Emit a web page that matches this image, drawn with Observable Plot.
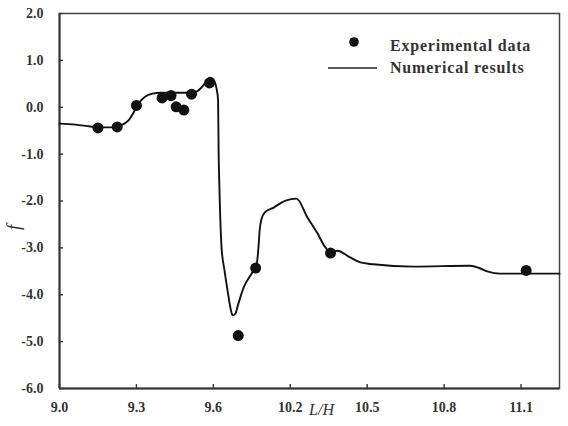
<!DOCTYPE html>
<html>
<head>
<meta charset="utf-8">
<script src="https://cdn.jsdelivr.net/npm/d3@7"></script>
<script src="https://cdn.jsdelivr.net/npm/@observablehq/plot@0.6"></script>
<style>
  html, body { margin: 0; padding: 0; background: #fff; }
</style>
</head>
<body>
<div id="chart"></div>
<script>
// L/H axis ticks (the printed scale steps straight from 9.6 to 10.2)
const xTickValues = [9.0, 9.3, 9.6, 10.2, 10.5, 10.8, 11.1];
const xTickLabels = ["9.0", "9.3", "9.6", "10.2", "10.5", "10.8", "11.1"];
const xMax = 11.25;

// f axis ticks
const yTickValues = [2, 1, 0, -1, -2, -3, -4, -5, -6];
const yTickLabels = ["2.0", "1.0", "0.0", "-1.0", "-2.0", "-3.0", "-4.0", "-5.0", "-6.0"];

// Experimental data
const expLH = [9.15, 9.225, 9.30, 9.40, 9.435, 9.455, 9.485, 9.515, 9.585, 9.794, 9.93, 10.357, 11.12];
const expF  = [-0.44, -0.42, 0.04, 0.20, 0.25, 0.01, -0.06, 0.28, 0.52, -4.87, -3.43, -3.11, -3.48];

// Numerical results
const numLH = [9.00, 9.062, 9.121, 9.16, 9.199, 9.238, 9.269, 9.289, 9.308, 9.335, 9.363, 9.394,
               9.452, 9.523, 9.55, 9.57, 9.585, 9.597, 9.625, 9.637, 9.641, 9.648, 9.664, 9.687,
               9.711, 9.734, 9.750, 9.773, 9.789, 9.836, 9.898, 9.937, 9.953, 9.961, 9.977, 10.0,
               10.071, 10.164, 10.224, 10.267, 10.306, 10.337, 10.357, 10.384, 10.435, 10.473,
               10.524, 10.68, 10.902, 10.941, 10.968, 11.019, 11.25];
const numF  = [-0.35, -0.37, -0.41, -0.43, -0.43, -0.39, -0.28, -0.11, 0.08, 0.23, 0.29, 0.31,
               0.31, 0.31, 0.40, 0.53, 0.63, 0.61, 0.40, 0.14, -0.92, -1.78, -2.99, -3.48,
               -3.91, -4.29, -4.44, -4.40, -4.25, -3.85, -3.55, -3.37, -2.95, -2.63, -2.37, -2.25,
               -2.14, -1.99, -1.95, -2.35, -2.69, -2.99, -3.10, -3.06, -3.21, -3.31,
               -3.35, -3.40, -3.38, -3.44, -3.50, -3.55, -3.55];

const experimental = expLH.map((x, i) => ({x, f: expF[i]}));
const numerical = numLH.map((x, i) => ({x, f: numF[i]}));

// The printed ticks are evenly spaced, so L/H is laid out in "tick steps":
// one step per printed tick, and the axis ends half a step past 11.1.
const lastTick = xTickValues[xTickValues.length - 1];
const xDomain = [...xTickValues, xMax];
const steps = xTickValues.map((_, i) => i)
  .concat(xTickValues.length - 1 + (xMax - lastTick) / 0.3);
const toStep = d3.scaleLinear().domain(xDomain).range(steps);
const tickSteps = xTickValues.map(v => toStep(v));

const W = 568, H = 426;
const serif = "'Liberation Serif', 'Times New Roman', serif";
const ink = "#333";

// Legend drawn in the upper right of the plotting area
function legend() {
  const g = d3.create("svg:g")
    .attr("font-family", serif)
    .attr("font-weight", "bold")
    .attr("font-size", 16)
    .attr("letter-spacing", 0.8)
    .attr("text-anchor", "start")
    .attr("fill", ink);
  g.append("circle").attr("cx", 354).attr("cy", 42).attr("r", 4.8).attr("fill", "#111");
  g.append("text").attr("x", 390).attr("y", 51).text("Experimental data");
  g.append("line").attr("x1", 328).attr("x2", 377).attr("y1", 68).attr("y2", 68)
    .attr("stroke", "#222").attr("stroke-width", 1.6);
  g.append("text").attr("x", 390).attr("y", 73).text("Numerical results");
  return g.node();
}

const tickText = {fontSize: 14, fontWeight: "bold", fill: ink, letterSpacing: "0.6px"};

const chart = Plot.plot({
  width: W,
  height: H,
  marginLeft: 59,
  marginRight: 9,
  marginTop: 13,
  marginBottom: 38,
  style: {fontFamily: serif, background: "#fff", color: ink},
  x: {domain: [0, steps[steps.length - 1]]},
  y: {domain: [-6, 2]},
  marks: [
    // inward tick marks
    Plot.axisX(tickSteps, {tickSize: -4, tickFormat: () => "", label: null, stroke: ink, strokeWidth: 1.4}),
    Plot.axisY(yTickValues, {tickSize: -4, tickFormat: () => "", label: null, stroke: ink, strokeWidth: 1.4}),
    // tick labels
    Plot.axisX(tickSteps, {
      tickSize: 0, tickPadding: 14, label: null,
      tickFormat: (d) => xTickLabels[tickSteps.indexOf(d)],
      ...tickText
    }),
    Plot.axisY(yTickValues, {
      tickSize: 0, tickPadding: 16, label: null,
      tickFormat: d => yTickLabels[yTickValues.indexOf(d)],
      ...tickText
    }),
    Plot.frame({stroke: "#444", strokeWidth: 1.5}),
    Plot.ruleX([0], {stroke: "#333", strokeWidth: 2}),
    Plot.ruleY([-6], {stroke: "#333", strokeWidth: 2}),
    Plot.line(numerical, {x: d => toStep(d.x), y: "f", curve: "monotone-x", stroke: "#111", strokeWidth: 1.9}),
    Plot.dot(experimental, {x: d => toStep(d.x), y: "f", r: 5.5, fill: "#111", stroke: "none"}),
    // axis titles
    Plot.text(["L/H"], {frameAnchor: "bottom", dx: 12, dy: 26, fontSize: 16, fontStyle: "italic",
      fill: ink, text: d => d}),
    Plot.text(["f"], {frameAnchor: "left", dx: -46, dy: 29, rotate: -90, fontSize: 19,
      fontStyle: "italic", fill: ink, text: d => d}),
    legend
  ]
});

document.getElementById("chart").append(chart);
</script>
</body>
</html>
